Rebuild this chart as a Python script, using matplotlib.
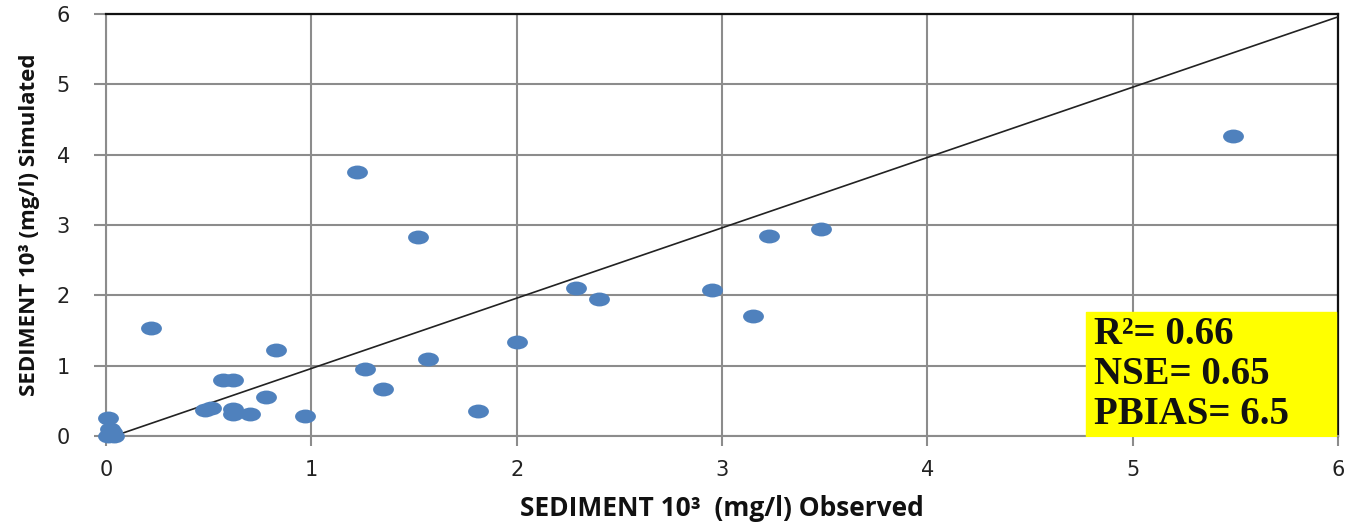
#!/usr/bin/env python3

import numpy as np
import matplotlib
matplotlib.use("Agg")
import matplotlib.pyplot as plt
from matplotlib.path import Path
from matplotlib.transforms import Affine2D

# observed vs simulated sediment (10^3 mg/l)
observed = [0.22, 1.22, 1.52, 0.83, 0.57, 0.62, 0.78, 0.48, 0.51, 0.62,
            0.62, 0.70, 0.97, 1.26, 1.35, 1.57, 1.81, 2.00, 2.29, 2.40,
            2.95, 3.15, 3.23, 3.48, 5.49, 0.01, 0.02, 0.03, 0.01, 0.04]
simulated = [1.54, 3.75, 2.83, 1.23, 0.80, 0.80, 0.55, 0.37, 0.40, 0.38,
             0.31, 0.31, 0.29, 0.95, 0.67, 1.10, 0.35, 1.33, 2.10, 1.95,
             2.08, 1.71, 2.84, 2.95, 4.27, 0.26, 0.10, 0.06, 0.0, 0.0]

line_x = [0, 6]
line_y = [-0.04, 5.96]

ticks = [0, 1, 2, 3, 4, 5, 6]
stats_lines = ["R\u00b2= 0.66", "NSE= 0.65", "PBIAS= 6.5"]

GRID = "#8c8c8c"
BLUE = "#4f81bd"


def main():
    fig = plt.figure(figsize=(13.64, 5.25), dpi=100)
    ax = fig.add_axes([0.0777, 0.1695, 0.9033, 0.8038])

    # Excel-ish markers look stretched sideways
    ellipse = Path.unit_circle().transformed(Affine2D().scale(1.5, 1.0))

    ax.plot(line_x, line_y, color="#222222", linewidth=1.2, zorder=3)
    ax.plot(observed, simulated, linestyle="none", marker=ellipse,
            markersize=15, color=BLUE, markeredgewidth=0, zorder=4,
            clip_on=False)

    ax.set_xlim(0, 6)
    ax.set_ylim(0, 6)
    ax.set_xticks(ticks)
    ax.set_yticks(ticks)
    ax.grid(True, color=GRID, linewidth=1.5)
    ax.set_axisbelow(True)

    for side in ["left", "bottom"]:
        ax.spines[side].set_color(GRID)
        ax.spines[side].set_linewidth(1.5)
    for side in ["top", "right"]:
        ax.spines[side].set_color("#111111")
        ax.spines[side].set_linewidth(1.6)

    ax.tick_params(axis="x", length=7, width=1.5, color=GRID, pad=10,
                   labelsize=15, labelcolor="#222222")
    ax.tick_params(axis="y", length=9, width=1.5, color=GRID, pad=17,
                   labelsize=15, labelcolor="#222222")

    ax.set_xlabel("SEDIMENT 10\u00b3  (mg/l) Observed", fontfamily="Open Sans",
                  fontweight="bold", fontsize=19, color="#111111", labelpad=11)
    ax.set_ylabel("SEDIMENT 10\u00b3 (mg/l) Simulated", fontfamily="Open Sans",
                  fontweight="bold", fontsize=16, color="#111111", labelpad=12)

    # yellow stats box in the lower right corner
    ax.fill_between([4.77, 5.99], 0, 1.76, color="#ffff00", zorder=5)
    for i, txt in enumerate(stats_lines):
        ax.text(4.81, 1.45 - i * 0.57, txt, fontfamily="Liberation Serif",
                fontweight="bold", fontsize=28, color="#111111",
                va="center", ha="left", zorder=6)

    fig.savefig("out.png", dpi=100)


if __name__ == "__main__":
    main()
